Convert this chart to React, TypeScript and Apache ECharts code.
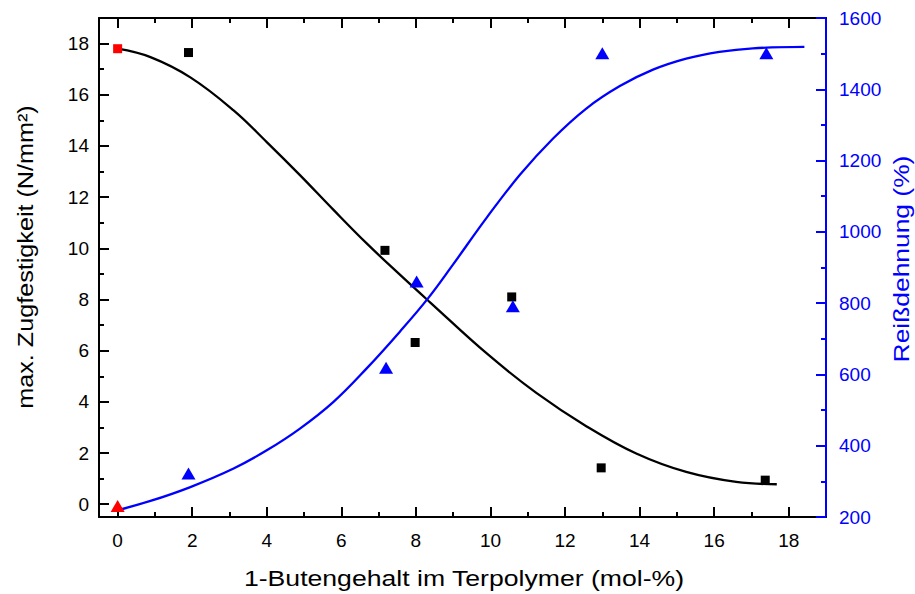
import React, { useEffect, useRef } from "react";
import * as echarts from "echarts";

// Tensile strength (left axis) and elongation at break (right axis)
// versus 1-butene content of the terpolymer.
const squaresX = [0, 1.9, 7.17, 7.98, 10.57, 12.97, 17.37];
const squaresY = [17.8, 17.65, 9.92, 6.32, 8.1, 1.42, 0.94];

const trianglesX = [0, 1.9, 7.2, 8.02, 10.6, 13.0, 17.4];
const trianglesY = [231, 322, 619, 861, 791, 1501, 1501];

// Fitted curves
const strengthFitX = [0, 0.88, 1.95, 3.11, 4.0, 4.89, 5.79, 6.68, 7.57, 8.38, 9.9, 11.23, 12.57, 13.91, 15.25, 16.59, 17.68];
const strengthFitY = [17.8, 17.47, 16.68, 15.39, 14.15, 12.86, 11.5, 10.19, 8.97, 7.89, 5.89, 4.35, 3.05, 1.98, 1.26, 0.87, 0.78];

const elongFitX = [0, 0.88, 1.95, 3.11, 4.0, 4.89, 5.79, 6.68, 7.57, 8.33, 8.96, 9.9, 10.79, 11.68, 12.57, 13.47, 14.36, 15.25, 16.14, 17.04, 18.42];
const elongFitY = [219, 245, 284, 336, 387, 448, 523, 617, 720, 814, 903, 1040, 1160, 1262, 1346, 1409, 1455, 1486, 1505, 1515, 1519];

const xMajorTicks = [0, 2, 4, 6, 8, 10, 12, 14, 16, 18];
const xMinorTicks = [1, 3, 5, 7, 9, 11, 13, 15, 17];
const yLeftMajorTicks = [0, 2, 4, 6, 8, 10, 12, 14, 16, 18];
const yLeftMinorTicks = [1, 3, 5, 7, 9, 11, 13, 15, 17];
const yRightMinorTicks = [300, 500, 700, 900, 1100, 1300, 1500];

const xTitle = "1-Butengehalt im Terpolymer (mol-%)";
const yLeftTitle = "max. Zugfestigkeit (N/mm²)";
const yRightTitle = "Reißdehnung (%)";

const BLACK = "#000000";
const BLUE = "#0000ff";
const RED = "#ff0000";
const FONT = "'Liberation Sans', Arial, sans-serif";

const pairs = (xs: number[], ys: number[]) => xs.map((x, i) => [x, ys[i]]);

function xAxisDef(position: "top" | "bottom", ticks: number[], major: boolean, labels: boolean) {
  return {
    type: "value",
    position,
    min: -0.5,
    max: 19,
    axisLine: { show: major, onZero: false, lineStyle: { color: BLACK, width: 2 } },
    axisTick: {
      show: true,
      inside: true,
      length: major ? 10 : 5,
      customValues: ticks,
      lineStyle: { color: BLACK, width: 2 },
    },
    axisLabel: labels
      ? { show: true, customValues: ticks, fontSize: 19, fontFamily: FONT, color: BLACK, margin: 14 }
      : { show: false },
    splitLine: { show: false },
  };
}

export default function App() {
  const ref = useRef<HTMLDivElement>(null);

  useEffect(() => {
    if (!ref.current) return;
    const chart = echarts.init(ref.current, undefined, { renderer: "svg" });

    chart.setOption({
      animation: false,
      backgroundColor: "#ffffff",
      grid: { left: 99, right: 89, top: 18, bottom: 77, containLabel: false, outerBoundsMode: "none" },
      xAxis: [
        xAxisDef("bottom", xMajorTicks, true, true),
        xAxisDef("bottom", xMinorTicks, false, false),
        xAxisDef("top", xMajorTicks, true, false),
        xAxisDef("top", xMinorTicks, false, false),
      ],
      yAxis: [
        {
          type: "value",
          position: "left",
          min: -0.5,
          max: 19,
          axisLine: { show: true, onZero: false, lineStyle: { color: BLACK, width: 2 } },
          axisTick: { show: true, inside: true, length: 10, customValues: yLeftMajorTicks, lineStyle: { color: BLACK, width: 2 } },
          axisLabel: { customValues: yLeftMajorTicks, fontSize: 19, fontFamily: FONT, color: BLACK, margin: 10 },
          splitLine: { show: false },
        },
        {
          type: "value",
          position: "left",
          min: -0.5,
          max: 19,
          axisLine: { show: false, onZero: false },
          axisTick: { show: true, inside: true, length: 5, customValues: yLeftMinorTicks, lineStyle: { color: BLACK, width: 2 } },
          axisLabel: { show: false },
          splitLine: { show: false },
        },
        {
          type: "value",
          position: "right",
          min: 200,
          max: 1600,
          interval: 200,
          axisLine: { show: true, onZero: false, lineStyle: { color: BLUE, width: 2 } },
          axisTick: { show: true, inside: true, length: 10, lineStyle: { color: BLUE, width: 2 } },
          axisLabel: {
            fontSize: 19,
            fontFamily: FONT,
            color: BLUE,
            margin: 13,
            formatter: (v: number) => String(v),
          },
          splitLine: { show: false },
        },
        {
          type: "value",
          position: "right",
          min: 200,
          max: 1600,
          axisLine: { show: false, onZero: false },
          axisTick: { show: true, inside: true, length: 5, customValues: yRightMinorTicks, lineStyle: { color: BLUE, width: 2 } },
          axisLabel: { show: false },
          splitLine: { show: false },
        },
      ],
      series: [
        {
          type: "line",
          xAxisIndex: 0,
          yAxisIndex: 0,
          data: pairs(strengthFitX, strengthFitY),
          smooth: 0.4,
          showSymbol: false,
          lineStyle: { color: BLACK, width: 2.3 },
          z: 2,
        },
        {
          type: "line",
          xAxisIndex: 0,
          yAxisIndex: 2,
          data: pairs(elongFitX, elongFitY),
          smooth: 0.4,
          showSymbol: false,
          lineStyle: { color: BLUE, width: 2.3 },
          z: 2,
        },
        {
          type: "scatter",
          xAxisIndex: 0,
          yAxisIndex: 0,
          symbol: "rect",
          symbolSize: 9,
          itemStyle: { color: BLACK, opacity: 1 },
          data: squaresX.map((x, i) => ({
            value: [x, squaresY[i]],
            itemStyle: { color: i === 0 ? RED : BLACK, opacity: 1 },
          })),
          z: 3,
        },
        {
          type: "scatter",
          xAxisIndex: 0,
          yAxisIndex: 2,
          symbol: "triangle",
          symbolSize: [14, 12],
          itemStyle: { color: BLUE, opacity: 1 },
          data: trianglesX.map((x, i) => ({
            value: [x, trianglesY[i]],
            itemStyle: { color: i === 0 ? RED : BLUE, opacity: 1 },
          })),
          z: 3,
        },
      ],
      graphic: [
        {
          type: "text",
          x: 464,
          y: 578,
          scaleX: 1.21,
          style: {
            text: xTitle,
            fontSize: 22,
            fontFamily: FONT,
            fill: BLACK,
            textAlign: "center",
            textVerticalAlign: "middle",
            align: "center",
            verticalAlign: "middle",
          },
        },
        {
          type: "text",
          x: 26,
          y: 257,
          rotation: Math.PI / 2,
          scaleX: 1.145,
          style: {
            text: yLeftTitle,
            fontSize: 22,
            fontFamily: FONT,
            fill: BLACK,
            textAlign: "center",
            textVerticalAlign: "middle",
            align: "center",
            verticalAlign: "middle",
          },
        },
        {
          type: "text",
          x: 901,
          y: 259,
          rotation: Math.PI / 2,
          scaleX: 1.2,
          style: {
            text: yRightTitle,
            fontSize: 22,
            fontFamily: FONT,
            fill: BLUE,
            textAlign: "center",
            textVerticalAlign: "middle",
            align: "center",
            verticalAlign: "middle",
          },
        },
      ],
    });

    return () => chart.dispose();
  }, []);

  return (
    <div
      ref={ref}
      style={{ position: "fixed", left: 0, top: 0, width: 915, height: 594, background: "#fff" }}
    />
  );
}
